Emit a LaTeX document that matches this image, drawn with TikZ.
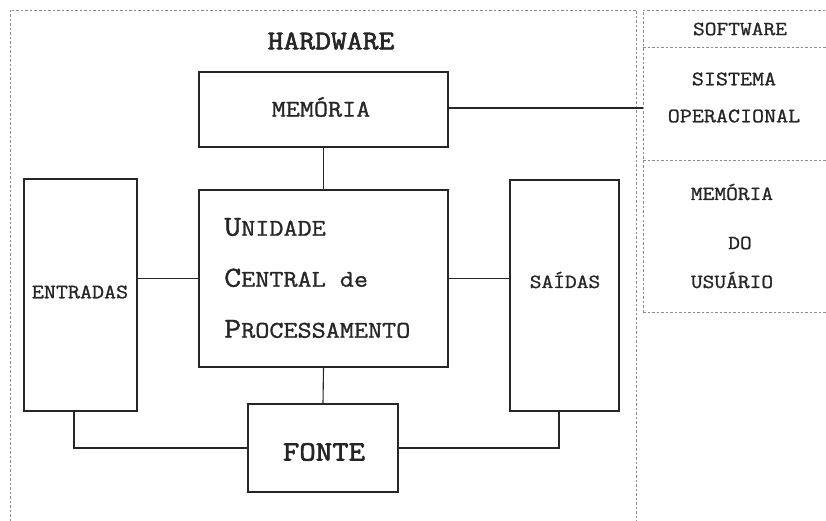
\documentclass[tikz,border=0pt]{standalone}
\usepackage{fontspec}
\newfontfamily\cour[FakeStretch=1.14,FakeBold=1.2]{Latin Modern Mono}
\newfontfamily\courb[FakeStretch=1.14,FakeBold=2.2]{Latin Modern Mono}
\begin{document}
\begin{tikzpicture}[x=1pt,y=-1pt,
  box/.style={draw=black!85,line width=1.2pt,rectangle,inner sep=0pt},
  conn/.style={draw=black!85,line width=1.1pt},
  guide/.style={draw=black!45,line width=0.7pt,dash pattern=on 2.5pt off 2pt},
  lbl/.style={font=\cour,text=black!85,inner sep=0pt}]
\useasboundingbox (0,0) rectangle (826,521);
% frames
\draw[guide] (10,521) -- (10,10) -- (636,10) -- (636,521);
\draw[guide] (643,312) -- (643,10) -- (826,10);
\draw[guide] (643,47) -- (826,47);
\draw[guide] (643,160) -- (826,160);
\draw[guide] (643,312) -- (826,312);
% boxes
\node[box,minimum width=249,minimum height=75] (mem) at (323.5,109.5) {};
\node[box,minimum width=249,minimum height=177] (cpu) at (323.5,278.5) {};
\node[box,minimum width=113,minimum height=232] (ent) at (80.5,295) {};
\node[box,minimum width=109,minimum height=231] (sai) at (564.5,295.5) {};
\node[box,minimum width=150,minimum height=88] (fon) at (323,448) {};
% labels
\node[lbl,font=\courb\fontsize{27}{27}\selectfont] (thw) at (331,41) {HARDWARE};
\node[lbl,font=\cour\fontsize{24}{24}\selectfont] (tmem) at (321,107) {MEMÓRIA};
\node[lbl,font=\cour\fontsize{20.5}{20.5}\selectfont] (tent) at (80,292) {ENTRADAS};
\node[lbl,font=\cour\fontsize{20}{20}\selectfont] (tsai) at (565,280) {SAÍDAS};
\node[lbl,font=\courb\fontsize{28}{28}\selectfont] (tfon) at (324,452) {FONTE};
\node[lbl,anchor=west,align=left,font=\cour\fontsize{24}{51}\selectfont] (tcpu) at (224,278)
  {{\fontsize{29}{51}\selectfont U}NIDADE\\
   {\fontsize{29}{51}\selectfont C}ENTRAL de\\
   {\fontsize{29}{51}\selectfont P}ROCESSAMENTO};
\node[lbl,font=\cour\fontsize{20}{20}\selectfont] (tsw) at (740,29) {SOFTWARE};
\node[lbl,font=\cour\fontsize{20.5}{20.5}\selectfont] (tsis) at (734,79) {SISTEMA};
\node[lbl,font=\cour\fontsize{20.5}{20.5}\selectfont] (top) at (734,116) {OPERACIONAL};
\node[lbl,font=\cour\fontsize{20}{20}\selectfont] (tmu) at (732,192) {MEMÓRIA};
\node[lbl,font=\cour\fontsize{20}{20}\selectfont] (tdo) at (740,243) {DO};
\node[lbl,font=\cour\fontsize{20}{20}\selectfont] (tus) at (732,280) {USUÁRIO};
% connectors
\coordinate (swl) at (643,108);
\coordinate (ebot) at (74,411);
\coordinate (sbot) at (559,411);
\draw[conn] (mem.south) -- (cpu.north);
\draw[conn] (mem.east |- swl) -- (swl);
\draw[conn] (cpu.west) -- (cpu.west -| ent.east);
\draw[conn] (cpu.east) -- (cpu.east -| sai.west);
\draw[conn] (cpu.south) -- (fon.north);
\draw[conn] (ebot) |- (fon.west);
\draw[conn] (fon.east) -| (sbot);
\end{tikzpicture}
\end{document}
